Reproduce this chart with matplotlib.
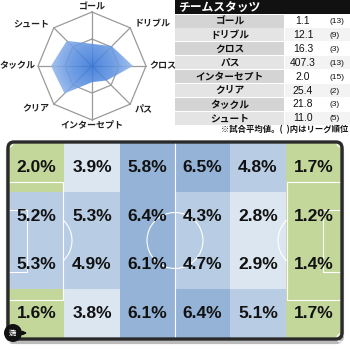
import numpy as np
import matplotlib.pyplot as plt
from matplotlib.patches import Rectangle, Polygon, Circle, Arc, FancyBboxPatch
from matplotlib.colors import LinearSegmentedColormap

plt.rcParams['font.family'] = ['Noto Sans CJK JP', 'DejaVu Sans']

# team stats (per match) and league rank
stat_names = ['ゴール', 'ドリブル', 'クロス', 'パス', 'インターセプト', 'クリア', 'タックル', 'シュート']
stat_values = ['1.1', '12.1', '16.3', '407.3', '2.0', '25.4', '21.8', '11.0']
stat_ranks = [13, 9, 3, 13, 15, 2, 3, 5]
# radar score, fraction of the outer ring, same order as stat_names
radar_scores = [0.41, 0.52, 0.76, 0.38, 0.30, 0.72, 0.76, 0.66]

# share of play per zone (%), rows top->bottom, attacking left->right
zone_pct = [
    [2.0, 3.9, 5.8, 6.5, 4.8, 1.7],
    [5.2, 5.3, 6.4, 4.3, 2.8, 1.2],
    [5.3, 4.9, 6.1, 4.7, 2.9, 1.4],
    [1.6, 3.8, 6.1, 6.4, 5.1, 1.7],
]
zone_bins = [2.5, 4.0, 5.5]
zone_colors = ['#c4d79b', '#dce6f1', '#b8cce4', '#95b3d7']

fig = plt.figure(figsize=(3.5, 3.5), dpi=100)
ax = fig.add_axes([0, 0, 1, 1])

# ---- radar ----
cx, cy, R = 92, 66, 54
theta = np.radians(90 - 45 * np.arange(8))
ring = np.column_stack([np.cos(theta), -np.sin(theta)])

for frac in (0.5, 1.0):
    pts = np.vstack([ring, ring[:1]]) * R * frac
    ax.plot(cx + pts[:, 0], cy + pts[:, 1], color='#9a9a9a', lw=0.9, zorder=2)
for k in range(8):
    ax.plot([cx, cx + R * ring[k, 0]], [cy, cy + R * ring[k, 1]], color='#9a9a9a', lw=0.9, zorder=2)

scores = np.array(radar_scores)
poly_xy = np.column_stack([cx + R * scores * np.cos(theta), cy - R * scores * np.sin(theta)])
poly = Polygon(poly_xy, closed=True, facecolor='none', edgecolor='none')
ax.add_patch(poly)
gx, gy = np.meshgrid(np.linspace(-1, 1, 200), np.linspace(-1, 1, 200))
cmap = LinearSegmentedColormap.from_list('rad', ['#3474d8', '#5e92e0', '#9dbdee'])
im = ax.imshow(np.hypot(gx, gy), cmap=cmap, vmin=0, vmax=0.8,
               extent=(cx - R, cx + R, cy + R, cy - R), alpha=0.88, zorder=3)
im.set_clip_path(poly)

for k, name in enumerate(stat_names):
    c, s = np.cos(theta[k]), np.sin(theta[k])
    if abs(c) < 0.1:
        r, ha = 59, 'center'
    elif abs(s) < 0.1:
        r, ha = 57, ('left' if c > 0 else 'right')
    else:
        r, ha = 60, ('left' if c > 0 else 'right')
    ax.text(cx + r * c, cy - r * s, name, ha=ha, va='center', fontsize=6.5,
            fontweight='bold', color='#222222')

# ---- stats table ----
ax.add_patch(Rectangle((175, 0), 175, 14, facecolor='#111111', edgecolor='none'))
ax.text(178, 7, 'チームスタッツ', color='white', fontsize=8.5, fontweight='bold', ha='left', va='center')
row_h = 13.9
for i, (name, val, rank) in enumerate(zip(stat_names, stat_values, stat_ranks)):
    y = 14.5 + i * row_h
    ax.add_patch(Rectangle((175, y), 109, row_h - 0.8,
                           facecolor='#d4d4d4' if i % 2 == 0 else '#e4e4e4', edgecolor='none'))
    ax.add_patch(Rectangle((285, y), 65, row_h - 0.8,
                           facecolor='white' if i % 2 == 0 else '#f3f3f3', edgecolor='none'))
    ym = y + (row_h - 0.8) / 2
    ax.text(230, ym, name, ha='center', va='center', fontsize=7, fontweight='bold', color='#111111')
    ax.text(303, ym, val, ha='center', va='center', fontsize=7.5,
            family='Liberation Sans', color='#111111')
    ax.text(330, ym + 0.5, f'({rank})', ha='left', va='center', fontsize=6,
            family='Liberation Sans', color='#111111')
ax.text(348, 130, '※試合平均値。(  )内はリーグ順位', ha='right', va='center', fontsize=6,
        fontweight='bold', color='#111111')

# ---- pitch ----
x0, x1, y0, y1 = 9, 341, 143, 338
ncol, nrow = 6, 4
cw, ch = (x1 - x0) / ncol, (y1 - y0) / nrow

ax.add_patch(FancyBboxPatch((x0 - 1, y0 + 2), x1 - x0 + 2, y1 - y0 + 2,
                            boxstyle='round,pad=0,rounding_size=6',
                            facecolor='none', edgecolor='#bbbbbb', lw=3))
for r in range(nrow):
    for c in range(ncol):
        v = zone_pct[r][c]
        col = zone_colors[int(np.searchsorted(zone_bins, v))]
        ax.add_patch(Rectangle((x0 + c * cw, y0 + r * ch), cw, ch, facecolor=col, edgecolor='none'))
        ax.text(x0 + (c + 0.5) * cw, y0 + (r + 0.5) * ch, f'{v:.1f}%', ha='center', va='center',
                fontsize=12.5, fontweight='bold', family='Liberation Sans', color='#111111', zorder=5)

lc = dict(color='white', lw=0.8, zorder=4)
my = (y0 + y1) / 2
mx = (x0 + x1) / 2
ax.plot([mx, mx], [y0, y1], **lc)
ax.add_patch(Circle((mx, my), 28, fill=False, ec='white', lw=0.8, zorder=4))
for side in (0, 1):
    if side == 0:
        gx0, sgn = x0, 1
    else:
        gx0, sgn = x1, -1
    pb = gx0 + sgn * 54
    ax.plot([gx0, pb, pb, gx0], [my - 59, my - 59, my + 59, my + 59], **lc)
    ga = gx0 + sgn * 18
    ax.plot([gx0, ga, ga, gx0], [my - 31, my - 31, my + 31, my + 31], **lc)
    spot = gx0 + sgn * 35
    if side == 0:
        ax.add_patch(Arc((spot, my), 56, 56, theta1=-47, theta2=47, ec='white', lw=0.8, zorder=4))
    else:
        ax.add_patch(Arc((spot, my), 56, 56, theta1=133, theta2=227, ec='white', lw=0.8, zorder=4))
for (px, py) in [(x0, y0), (x1, y0), (x0, y1), (x1, y1)]:
    ax.add_patch(Circle((px, py), 4, fill=False, ec='white', lw=0.8, zorder=4))

ax.add_patch(FancyBboxPatch((x0 - 1, y0 - 1), x1 - x0 + 2, y1 - y0 + 2,
                            boxstyle='round,pad=0,rounding_size=6',
                            facecolor='none', edgecolor='#2a2a2a', lw=2.4, zorder=6))

# attack direction badge
ax.add_patch(Circle((13, 333), 9, facecolor='#111111', edgecolor='none', zorder=7))
ax.text(13, 333, '攻撃\n方向', color='white', fontsize=3, ha='center', va='center',
        linespacing=1.0, zorder=8)
ax.annotate('', xy=(30, 333), xytext=(20, 333),
            arrowprops=dict(arrowstyle='-|>', color='#111111', lw=1.2, mutation_scale=5), zorder=8)

ax.set_xlim(0, 350)
ax.set_ylim(350, 0)
ax.set_aspect('auto')
ax.axis('off')

fig.savefig('out.png', dpi=100)
